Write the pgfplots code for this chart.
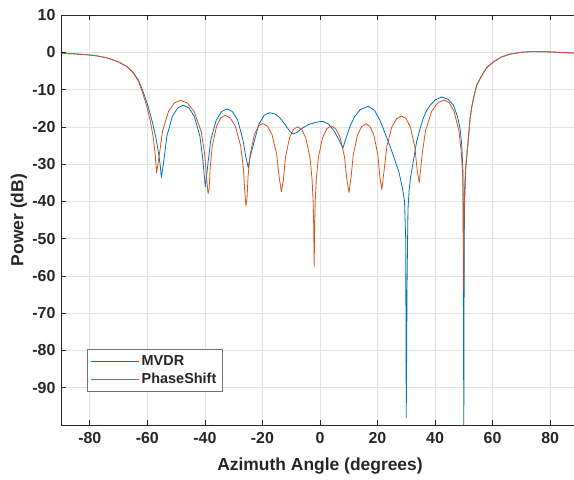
\documentclass[border=0pt]{standalone}
\usepackage{pgfplots}
\pgfplotsset{compat=1.18}
\usepackage{pgfplotstable}
\usepackage{fontspec}
\setmainfont{Liberation Sans}
\definecolor{mblue}{HTML}{0072BD}
\definecolor{morange}{HTML}{D95319}
\definecolor{axcol}{HTML}{262626}
\definecolor{gridcol}{HTML}{E3E3E3}

\pgfplotstableread{
x y
-90 -0.3
-86 -0.4
-82 -0.6
-78 -0.9
-74 -1.5
-70 -2.6
-67 -3.9
-65 -5.3
-63 -7.6
-61.5 -10.5
-60 -13.8
-59 -16.5
-58 -19.5
-57 -23
-56 -27.5
-55.5 -30.5
-55.1 -33.6
-54.15 -28.4
-53.2 -22.5
-51.3 -17.2
-49.4 -14.9
-47.5 -14.2
-45.58 -14.9
-43.65 -17.2
-41.73 -22.5
-40.76 -28.4
-40.28 -32.5
-39.8 -36.1
-38.86 -29.4
-37.93 -23.5
-36.05 -18.2
-34.18 -15.9
-32.3 -15.2
-30.45 -15.9
-28.6 -18.2
-26.75 -23.5
-25.83 -27.8
-24.9 -31.0
-24.4 -28.5
-23.05 -24.5
-21.2 -19.2
-19.35 -16.9
-17.5 -16.2
-15.5 -16.6
-13.9 -17.6
-12 -19.5
-10.5 -21.2
-9.3 -21.9
-8 -21.5
-6 -20.3
-4 -19.4
-2 -18.9
0 -18.6
1.2 -18.6
3 -19.3
5 -21.2
6.5 -23.3
7.5 -25
8.0 -25.7
9 -23.2
10.5 -19.8
12 -17.3
14 -15.4
16.8 -14.5
19 -15.6
21 -18.5
23 -22.5
24.5 -25.5
26 -28.8
27.5 -32.3
28.7 -36.5
29.4 -40
29.8 -50
30.0 -98
30.3 -60
30.6 -42
31 -37
31.5 -33.5
32.5 -29
33.6 -24
34.8 -20.5
36 -17.5
37.1 -15.6
38.3 -14.2
40 -12.8
42.3 -12.0
44.5 -12.6
46.4 -14.2
47.8 -17.2
48.7 -20.5
49.3 -25
49.7 -32
50 -100
50.15 -50
50.3 -40
50.7 -31
51.2 -26.5
51.6 -23
52.2 -17.7
52.8 -14.5
53.3 -12.6
54 -10.3
54.5 -8.8
55.7 -7.0
57 -5.3
58 -4.1
60.3 -2.6
63 -1.3
66 -0.5
70 0
74 0.2
80 0.1
85 -0.1
90 -0.3
}\mvdr

\pgfplotstableread{
x y
-90 -0.3
-86 -0.4
-82 -0.6
-78 -0.9
-74 -1.5
-70 -2.6
-67 -3.9
-65 -5.4
-63 -7.9
-61.5 -11.2
-60 -15
-59 -18.3
-58 -22.5
-57.3 -27
-56.8 -32.4
-55.76 -27.1
-54.73 -21.2
-52.65 -15.9
-50.58 -13.6
-48.5 -12.9
-46.1 -13.6
-43.7 -15.9
-41.3 -21.2
-40.1 -27.1
-39.5 -32.9
-38.9 -37.9
-38.53 -36.9
-38.16 -31.1
-37.43 -25.2
-35.95 -19.9
-34.48 -17.6
-33.0 -16.9
-31.18 -17.6
-29.35 -19.9
-27.53 -25.2
-26.61 -31.1
-26.16 -36.9
-25.7 -41.2
-25.34 -39.1
-24.98 -33.3
-24.25 -27.4
-22.8 -22.1
-21.35 -19.8
-19.9 -19.1
-18.28 -19.8
-16.65 -22.1
-15.03 -27.4
-14.21 -33.3
-13.4 -37.4
-12.7 -34.2
-12.0 -28.3
-10.6 -23.0
-9.2 -20.7
-7.8 -20.0
-6.35 -20.7
-4.9 -23.0
-3.45 -28.3
-2.73 -34.2
-2.36 -40
-2.18 -46
-2.0 -57.5
-1.82 -45.8
-1.63 -39.8
-1.26 -34
-0.53 -28.1
0.95 -22.8
2.43 -20.5
3.9 -19.8
5.45 -20.5
7.0 -22.8
8.55 -28.1
9.33 -34
10.1 -37.6
10.84 -33.4
11.58 -27.5
13.05 -22.2
14.53 -19.9
16.0 -19.2
17.38 -19.9
18.75 -22.2
20.13 -27.5
20.81 -33.4
21.5 -36.8
22.36 -31.3
23.23 -25.4
24.95 -20.1
26.68 -17.8
28.4 -17.1
29.93 -17.8
31.45 -20.1
32.98 -25.4
33.74 -31.3
34.5 -35
35.59 -27
36.68 -21.1
38.85 -15.8
41.03 -13.5
43.2 -12.8
44.9 -13.5
46.6 -15.8
48.3 -21.1
49.15 -27
49.58 -32.8
49.79 -38.8
49.9 -45
50 -64
50.1 -45
50.3 -36
50.7 -30
51.2 -26.5
51.6 -23
52.2 -17.7
52.8 -14.5
53.3 -12.6
54 -10.3
54.5 -8.8
55.7 -7.0
57 -5.3
58 -4.1
60.3 -2.6
63 -1.3
66 -0.5
70 0
74 0.2
80 0.1
85 -0.1
90 -0.3
}\phase

\begin{document}
\begin{tikzpicture}
\begin{axis}[
  name=ax,
  scale only axis,
  width=513bp, height=410bp,
  xmin=-90, xmax=88.3,
  ymin=-100, ymax=10,
  xtick={-80,-60,...,80},
  ytick={-90,-80,...,10},
  ytick pos=left,
  tick align=inside,
  major tick length=5bp,
  grid=major,
  major grid style={gridcol, line width=0.6bp},
  axis line style={draw=none},
  tick style={axcol, line width=0.6bp},
  /pgf/number format/assume math mode=true,
  ticklabel style={font=\fontsize{16}{18}\selectfont\bfseries, text=axcol},
  xticklabel style={yshift=-4bp},
  yticklabel style={xshift=-2bp},
  xlabel={Azimuth Angle (degrees)},
  ylabel={Power (dB)},
  label style={font=\fontsize{17.5}{20}\selectfont\bfseries, text=axcol},
  xlabel style={at={(axis description cs:0.5049,-0.1)}, anchor=center},
  ylabel style={at={(axis description cs:-0.082,0.5)}, anchor=center},
  legend style={at={(axis cs:-81.1,-91)}, anchor=south west, draw=black!55, line width=0.6bp,
    fill=white, font=\fontsize{14.5}{16}\selectfont\bfseries,
    inner xsep=4bp, inner ysep=4bp, row sep=2bp},
  legend cell align=left,
  legend image code/.code={\draw[#1, line width=0.8bp] (0bp,0bp) -- (48bp,0bp);},
  every axis plot/.append style={line width=0.8bp, line join=round},
]
\addplot[draw=mblue] table {\mvdr};
\addlegendentry{\textcolor{axcol}{MVDR}}
\addplot[draw=morange] table {\phase};
\addlegendentry{\textcolor{axcol}{PhaseShift}}
\draw[axcol, line width=0.7bp] (rel axis cs:0,1) -- (rel axis cs:0,0) -- (rel axis cs:1,0);
\draw[axcol, line width=0.7bp] (rel axis cs:0,1) -- (rel axis cs:1,1);
\end{axis}
\pgfresetboundingbox
\path[use as bounding box] ([shift={(-61bp,-54bp)}]ax.south west) rectangle ([shift={(0bp,15bp)}]ax.north east);
\end{tikzpicture}
\end{document}
